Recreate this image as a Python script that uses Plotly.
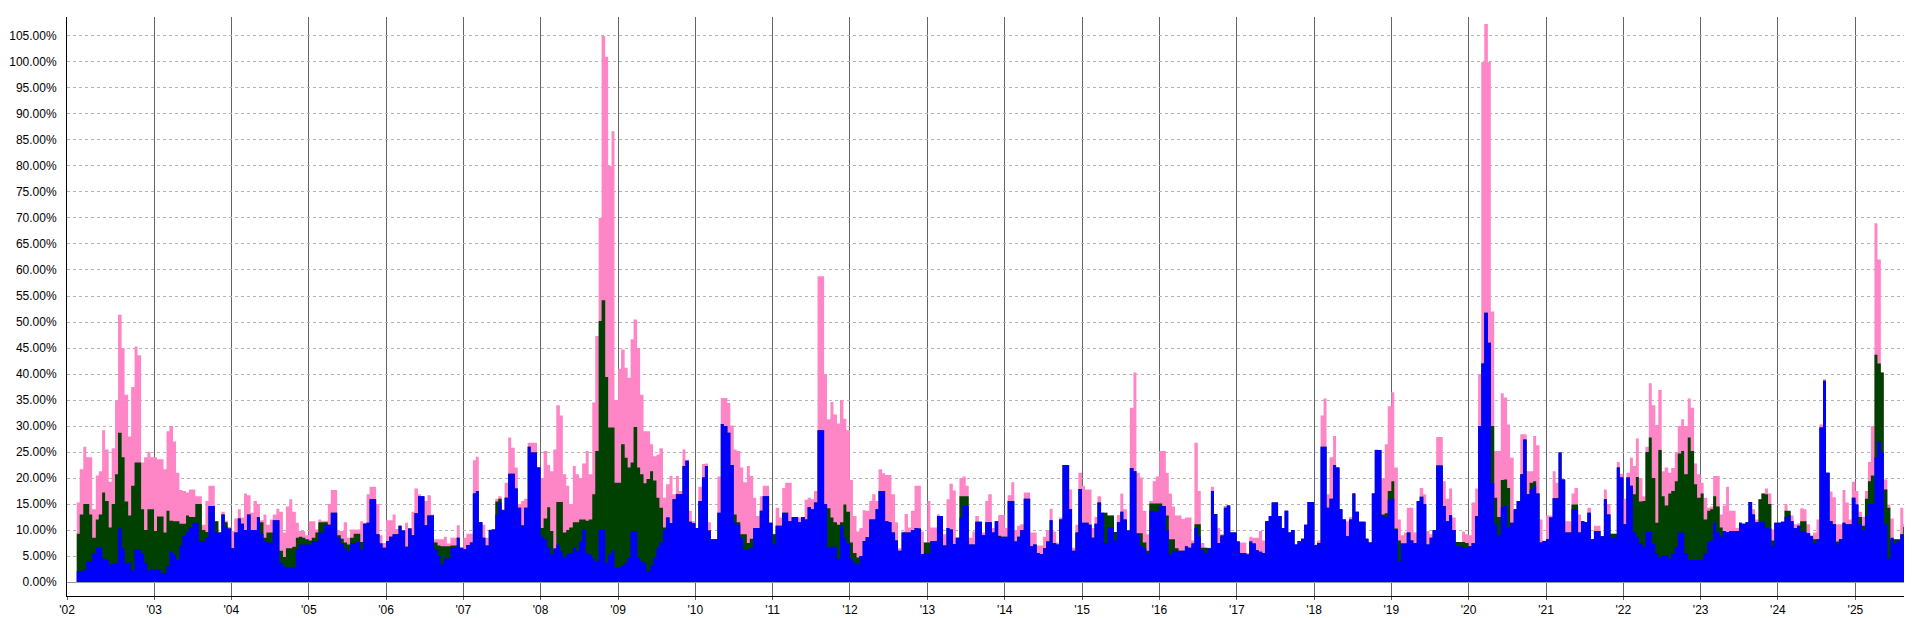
import pandas as pd
import plotly.graph_objects as go

# ---- data: semi-monthly values (%), Jan 2002 .. Oct 2025 ----
tick_labels = ["'02", "'03", "'04", "'05", "'06", "'07", "'08", "'09", "'10", "'11", "'12", "'13",
               "'14", "'15", "'16", "'17", "'18", "'19", "'20", "'21", "'22", "'23", "'24", "'25"]
tick_years = list(range(2003, 2026))

pink = [
    15.3, 21.7, 26.0, 24.0, 24.0, 14.0, 20.5, 21.3, 29.2, 25.5, 19.3, 25.7, 34.8, 51.4, 45.0, 36.0, 28.0, 37.5, 45.3, 43.6, 23.0, 24.0, 25.0, 24.0,  # 2002
    24.0, 23.6, 23.6, 21.7, 29.0, 30.0, 27.0, 21.0, 17.7, 17.5, 17.2, 17.8, 17.8, 16.5, 16.5, 11.0, 15.6, 18.5, 18.5, 11.7, 9.5, 13.5, 11.8, 10.6,  # 2003
    9.8, 12.2, 14.0, 12.4, 17.0, 16.7, 13.3, 15.6, 15.0, 11.9, 13.0, 11.0, 12.0, 13.0, 14.1, 13.5, 9.5, 14.5, 15.9, 13.5, 11.4, 9.8, 9.8, 9.0,  # 2004
    11.7, 11.7, 10.1, 12.0, 11.8, 11.8, 15.0, 17.7, 17.7, 9.8, 9.8, 11.5, 8.5, 10.1, 10.1, 10.1, 11.7, 11.4, 16.9, 18.3, 18.3, 15.0, 9.0, 7.5,  # 2005
    11.9, 11.9, 13.0, 10.2, 10.8, 9.9, 11.4, 10.4, 13.5, 18.0, 16.9, 16.5, 15.6, 16.7, 13.0, 8.2, 8.2, 8.2, 8.7, 7.4, 8.5, 8.5, 10.9, 6.6,  # 2006
    8.5, 9.3, 9.3, 23.4, 24.1, 11.5, 11.0, 8.5, 10.1, 10.1, 16.0, 16.5, 14.0, 19.1, 27.8, 25.8, 22.0, 15.0, 15.6, 16.0, 26.8, 26.8, 26.8, 22.0,  # 2007
    20.0, 25.2, 22.5, 21.3, 25.5, 34.0, 32.0, 20.7, 18.5, 15.0, 22.3, 20.7, 20.0, 22.8, 25.2, 20.7, 34.5, 47.3, 70.0, 105.0, 101.0, 80.0, 86.7, 35.0,  # 2008
    41.0, 44.7, 41.2, 39.3, 46.7, 50.5, 45.0, 36.0, 29.0, 29.0, 26.5, 24.2, 24.5, 25.7, 16.2, 18.8, 20.4, 16.9, 20.4, 17.5, 25.5, 23.5, 13.7, 11.7,  # 2009
    10.4, 18.3, 22.7, 22.8, 11.5, 8.2, 8.2, 20.3, 35.4, 35.4, 34.4, 30.1, 25.5, 25.2, 22.0, 19.2, 22.3, 20.4, 16.2, 12.7, 16.5, 18.5, 18.5, 11.4,  # 2010
    9.3, 14.3, 12.4, 18.1, 19.1, 19.1, 12.5, 12.5, 12.4, 12.5, 15.8, 16.2, 15.9, 17.5, 58.8, 58.8, 40.0, 31.3, 34.6, 32.2, 30.5, 35.0, 31.4, 29.2,  # 2011
    19.6, 12.7, 9.7, 10.4, 13.8, 13.7, 15.6, 16.9, 15.6, 21.7, 20.9, 20.6, 20.6, 16.9, 11.5, 6.5, 9.7, 13.1, 10.5, 13.7, 18.5, 18.5, 9.7, 7.6,  # 2012
    15.6, 10.5, 10.5, 13.0, 12.7, 9.2, 15.9, 18.9, 17.6, 8.5, 20.0, 20.3, 18.5, 8.5, 9.7, 12.7, 11.6, 9.5, 15.6, 16.9, 10.4, 11.7, 12.9, 12.9,  # 2013
    10.4, 16.7, 19.2, 10.0, 10.8, 11.1, 17.2, 17.2, 9.5, 9.5, 7.0, 7.0, 8.7, 10.0, 14.1, 9.7, 7.6, 12.4, 22.5, 22.5, 17.8, 6.6, 11.0, 21.0,  # 2014
    18.5, 17.8, 17.8, 10.4, 12.5, 16.5, 13.3, 13.3, 12.8, 12.8, 9.6, 12.9, 17.0, 14.0, 10.0, 33.5, 40.3, 21.0, 20.1, 13.7, 9.2, 15.6, 19.4, 20.3,  # 2015
    25.2, 25.2, 21.0, 17.0, 14.5, 12.8, 12.8, 12.1, 12.4, 12.4, 8.0, 26.8, 17.5, 7.5, 6.6, 6.6, 18.3, 13.1, 10.4, 9.2, 14.6, 14.7, 9.5, 9.5,  # 2016
    7.8, 7.6, 7.6, 5.6, 8.7, 8.5, 8.5, 9.8, 8.0, 11.7, 12.7, 15.3, 15.3, 12.7, 10.4, 13.7, 9.5, 10.0, 7.2, 7.9, 8.3, 11.0, 15.4, 15.4,  # 2017
    7.2, 8.0, 32.0, 35.3, 16.9, 24.0, 28.1, 22.0, 14.0, 12.0, 11.7, 12.5, 17.0, 13.5, 11.6, 11.6, 8.3, 7.6, 17.0, 25.5, 25.4, 20.0, 26.5, 33.8,  # 2018
    36.5, 22.0, 12.0, 9.0, 9.5, 14.3, 14.3, 9.5, 15.6, 18.1, 16.9, 9.8, 9.2, 10.0, 27.9, 27.9, 19.4, 16.0, 18.0, 12.4, 7.7, 7.7, 9.7, 9.2,  # 2019
    9.0, 15.3, 18.0, 40.0, 100.0, 107.3, 100.0, 52.0, 25.2, 25.2, 36.3, 35.5, 30.3, 23.9, 13.6, 14.9, 28.4, 28.4, 21.3, 21.3, 28.1, 26.3, 12.0, 8.0,  # 2020
    12.8, 12.8, 21.3, 19.1, 24.9, 19.7, 11.7, 11.7, 17.0, 18.1, 13.0, 11.7, 11.5, 14.3, 8.2, 10.8, 10.8, 8.8, 17.8, 15.0, 9.3, 9.3, 23.1, 20.8,  # 2021
    16.0, 21.0, 23.9, 22.3, 27.6, 20.0, 16.5, 26.0, 38.2, 34.0, 30.2, 36.9, 21.3, 22.0, 21.0, 21.9, 25.0, 30.0, 31.3, 30.0, 35.3, 33.5, 22.8, 20.7,  # 2022
    19.1, 16.2, 14.3, 14.5, 20.4, 20.4, 13.0, 14.7, 18.3, 13.7, 13.7, 10.4, 11.4, 11.2, 11.5, 15.4, 14.0, 12.0, 15.9, 17.0, 18.0, 17.0, 10.1, 11.4,  # 2023
    11.4, 11.6, 15.0, 13.5, 12.8, 11.1, 11.3, 14.2, 14.0, 11.1, 9.0, 9.5, 12.0, 30.3, 39.0, 21.0, 17.4, 16.3, 11.1, 11.1, 17.7, 15.3, 12.0, 19.3,  # 2024
    17.5, 13.5, 12.5, 17.5, 23.1, 30.0, 69.0, 62.0, 40.3, 19.7, 14.9, 12.2, 8.2, 8.2, 14.3, 11.1, 11.1, 7.5, 12.0, 17.0,  # 2025
]

green = [
    9.3, 13.0, 15.0, 15.0, 13.0, 8.5, 12.0, 13.0, 17.2, 15.6, 10.5, 15.0, 20.7, 28.7, 24.0, 15.5, 12.8, 18.5, 23.0, 23.0, 14.0, 10.0, 14.0, 14.0,  # 2002
    9.8, 12.6, 12.6, 9.5, 13.7, 11.8, 11.7, 11.7, 11.2, 11.2, 12.8, 12.5, 12.5, 15.0, 15.0, 10.0, 9.6, 14.6, 14.6, 11.7, 9.5, 13.0, 11.5, 10.3,  # 2003
    6.5, 9.5, 12.2, 11.2, 10.0, 13.0, 10.0, 10.0, 12.5, 11.5, 8.5, 9.5, 9.5, 11.9, 11.9, 6.0, 4.8, 6.5, 6.5, 6.8, 8.5, 8.7, 8.5, 8.2,  # 2004
    8.0, 8.5, 9.5, 11.5, 11.5, 11.5, 11.0, 13.3, 13.3, 9.0, 8.3, 7.6, 7.2, 8.5, 9.3, 9.3, 7.7, 11.2, 11.4, 15.9, 15.9, 9.2, 7.4, 6.6,  # 2005
    7.9, 8.7, 9.2, 9.2, 10.8, 9.9, 6.8, 10.3, 9.0, 13.2, 16.5, 16.5, 10.9, 12.8, 12.8, 7.6, 7.0, 6.9, 6.9, 6.9, 7.0, 7.0, 8.5, 6.6,  # 2006
    6.3, 7.1, 7.6, 17.0, 17.5, 11.5, 8.5, 7.0, 10.0, 10.1, 15.5, 16.0, 13.8, 16.2, 20.8, 20.8, 18.0, 14.3, 10.9, 14.3, 26.0, 24.9, 24.9, 22.0,  # 2007
    10.4, 12.2, 14.4, 9.8, 6.2, 15.4, 15.4, 9.5, 10.0, 10.5, 11.5, 11.5, 12.0, 12.0, 11.8, 12.0, 16.9, 25.2, 50.2, 54.2, 39.4, 29.7, 29.7, 19.1,  # 2008
    19.1, 26.5, 23.9, 22.0, 23.0, 29.8, 22.0, 20.7, 19.0, 19.8, 21.3, 19.5, 16.2, 14.3, 10.5, 12.4, 11.3, 15.9, 16.9, 16.9, 22.3, 23.3, 11.6, 11.3,  # 2009
    10.4, 15.6, 20.1, 22.3, 9.9, 8.2, 8.2, 13.3, 30.4, 30.0, 28.7, 22.5, 13.0, 11.5, 9.2, 9.2, 7.5, 8.3, 10.4, 10.4, 13.7, 16.5, 16.5, 11.4,  # 2010
    9.2, 10.8, 10.8, 13.3, 13.3, 11.7, 12.5, 12.5, 11.5, 12.5, 12.0, 14.4, 14.0, 15.3, 29.2, 29.2, 15.0, 14.2, 12.4, 11.5, 11.0, 11.5, 14.9, 13.5,  # 2011
    7.6, 5.6, 4.7, 5.0, 7.9, 8.6, 12.0, 12.0, 14.0, 17.5, 17.5, 11.7, 11.5, 9.5, 8.0, 6.0, 9.5, 9.5, 9.5, 10.0, 10.4, 10.3, 5.4, 7.6,  # 2012
    7.6, 7.9, 7.9, 12.7, 12.7, 7.0, 10.4, 10.1, 7.3, 8.5, 16.5, 16.5, 16.5, 7.2, 7.2, 11.6, 11.6, 9.0, 11.5, 11.5, 9.5, 11.7, 8.9, 8.7,  # 2013
    8.7, 15.6, 15.6, 7.8, 8.7, 10.0, 16.0, 16.0, 6.9, 7.2, 5.6, 5.4, 6.5, 7.8, 11.9, 7.5, 7.2, 12.0, 22.5, 22.5, 14.0, 6.0, 9.5, 17.9,  # 2014
    11.4, 11.4, 11.0, 8.5, 11.2, 15.3, 13.3, 13.3, 12.8, 12.8, 9.6, 11.5, 13.5, 12.0, 9.9, 21.9, 21.3, 9.4, 9.4, 7.6, 6.0, 15.1, 15.1, 15.1,  # 2015
    15.1, 14.6, 12.8, 8.2, 8.2, 6.5, 6.0, 6.0, 6.9, 6.6, 7.4, 11.1, 11.1, 6.6, 6.6, 6.5, 17.5, 13.1, 7.5, 9.0, 14.3, 14.7, 9.5, 9.5,  # 2016
    7.8, 5.6, 5.6, 5.3, 7.8, 7.4, 6.1, 5.8, 5.6, 11.7, 12.7, 15.3, 15.3, 12.7, 10.4, 13.7, 9.5, 10.0, 7.2, 7.9, 8.3, 11.0, 15.4, 15.4,  # 2017
    7.1, 7.5, 26.0, 26.0, 14.3, 16.0, 22.5, 22.0, 14.0, 12.0, 8.8, 12.0, 17.0, 13.5, 11.6, 11.6, 8.3, 7.6, 17.0, 25.4, 25.4, 13.0, 13.2, 17.5,  # 2018
    19.4, 10.3, 8.0, 7.4, 7.4, 9.5, 8.0, 7.5, 15.6, 16.4, 15.0, 7.2, 8.5, 10.0, 22.4, 22.4, 14.6, 11.7, 12.9, 10.0, 7.7, 7.7, 7.7, 7.5,  # 2019
    6.9, 7.5, 12.7, 30.0, 42.0, 51.8, 46.0, 30.0, 16.2, 12.5, 19.6, 19.7, 18.1, 11.4, 14.0, 15.6, 20.7, 27.4, 16.9, 19.1, 19.4, 17.0, 7.6, 7.9,  # 2020
    8.2, 12.4, 16.1, 16.1, 24.9, 19.7, 9.5, 9.5, 14.9, 14.9, 9.5, 11.7, 11.5, 13.3, 8.2, 9.8, 9.8, 8.8, 15.9, 13.0, 9.3, 9.3, 22.0, 20.1,  # 2021
    11.1, 20.1, 18.5, 16.9, 20.2, 15.5, 15.6, 25.0, 27.8, 20.0, 11.4, 25.4, 16.5, 14.7, 17.0, 17.5, 19.4, 24.7, 25.2, 20.7, 27.8, 25.2, 18.8, 16.2,  # 2022
    17.0, 12.0, 13.7, 14.0, 16.5, 14.5, 10.5, 9.8, 9.6, 9.8, 9.8, 9.8, 11.4, 11.2, 11.5, 15.4, 13.0, 11.5, 15.9, 17.0, 16.9, 15.0, 8.0, 11.4,  # 2023
    11.4, 11.6, 13.7, 13.7, 11.7, 10.4, 10.8, 11.7, 11.7, 9.4, 8.8, 8.2, 8.2, 29.7, 38.7, 21.0, 11.7, 11.1, 7.8, 8.2, 11.4, 11.1, 11.1, 16.2,  # 2024
    14.9, 12.5, 10.8, 16.0, 19.4, 20.5, 43.7, 42.0, 40.3, 17.8, 14.3, 8.2, 8.2, 8.2, 9.2, 10.6, 7.0, 4.4, 10.1, 11.4,  # 2025
]

blue = [
    2.1, 2.1, 2.4, 4.0, 4.0, 5.5, 6.6, 6.6, 4.5, 4.3, 3.4, 3.5, 3.7, 10.3, 6.5, 3.7, 3.7, 2.2, 6.3, 6.3, 5.5, 3.7, 2.2, 2.5,  # 2002
    2.4, 2.4, 1.8, 1.8, 3.0, 5.8, 5.3, 4.3, 7.0, 9.0, 9.6, 10.6, 11.4, 11.4, 7.9, 7.9, 8.5, 14.6, 14.6, 9.5, 9.5, 13.0, 10.6, 10.3,  # 2003
    6.5, 9.5, 12.2, 11.2, 10.0, 13.0, 10.0, 10.0, 12.4, 9.3, 8.0, 7.6, 7.6, 11.9, 11.9, 3.7, 3.0, 2.8, 2.8, 2.8, 6.3, 7.2, 7.2, 7.2,  # 2004
    7.2, 7.9, 7.9, 9.5, 9.5, 11.0, 11.0, 13.3, 13.3, 8.5, 7.5, 6.5, 5.9, 7.5, 7.5, 7.7, 6.3, 11.2, 11.4, 15.9, 15.9, 9.2, 7.4, 6.6,  # 2005
    7.9, 8.7, 9.2, 9.2, 10.8, 9.9, 6.8, 10.3, 9.0, 13.2, 16.5, 16.5, 10.9, 12.8, 12.8, 6.3, 5.0, 3.4, 4.5, 4.5, 6.7, 6.7, 8.5, 6.6,  # 2006
    6.3, 7.1, 7.6, 17.0, 17.5, 11.5, 8.5, 7.0, 10.0, 10.1, 13.0, 15.3, 13.8, 16.2, 20.8, 20.8, 18.0, 14.3, 10.8, 14.3, 26.0, 24.9, 24.9, 22.0,  # 2007
    8.7, 8.2, 6.6, 5.3, 6.5, 7.2, 6.0, 4.7, 5.4, 5.6, 6.6, 6.0, 7.8, 10.1, 5.6, 5.3, 4.5, 4.0, 10.1, 10.1, 3.7, 5.3, 6.0, 2.8,  # 2008
    2.8, 3.2, 3.8, 4.7, 9.8, 9.8, 4.7, 4.0, 3.7, 2.1, 3.2, 4.7, 6.6, 7.6, 10.1, 12.4, 11.3, 15.9, 16.9, 16.9, 22.3, 23.3, 11.6, 11.3,  # 2009
    10.4, 15.6, 20.1, 22.3, 9.9, 8.2, 8.2, 13.3, 30.4, 30.0, 28.7, 22.5, 11.4, 11.0, 8.5, 6.2, 6.2, 6.6, 10.4, 10.4, 13.7, 16.5, 16.5, 11.4,  # 2010
    7.2, 10.8, 10.8, 13.3, 13.3, 11.7, 12.5, 12.5, 11.5, 12.5, 12.0, 14.4, 14.0, 15.3, 29.2, 29.2, 15.0, 6.6, 6.8, 6.8, 4.4, 10.8, 8.5, 7.4,  # 2011
    4.5, 3.7, 3.4, 5.0, 7.9, 8.6, 12.0, 12.0, 14.0, 17.5, 17.5, 11.7, 11.5, 9.5, 8.0, 6.0, 9.5, 9.5, 9.5, 10.0, 10.4, 10.3, 5.4, 5.6,  # 2012
    5.6, 7.9, 7.9, 12.7, 12.7, 7.0, 10.4, 10.1, 7.3, 8.5, 12.4, 14.6, 14.6, 7.2, 7.2, 11.6, 11.6, 9.0, 11.5, 11.5, 9.5, 11.7, 8.7, 8.7,  # 2013
    8.7, 15.6, 15.6, 7.8, 8.7, 10.0, 16.0, 16.0, 6.9, 7.2, 5.6, 5.4, 6.5, 7.8, 11.9, 7.5, 7.2, 12.0, 22.5, 22.5, 14.0, 6.0, 9.5, 17.9,  # 2014
    11.4, 11.4, 11.0, 8.5, 11.2, 15.3, 13.3, 7.5, 10.6, 10.5, 8.0, 11.5, 13.5, 12.0, 9.9, 21.9, 21.3, 9.3, 7.0, 6.5, 5.5, 13.7, 13.5, 13.7,  # 2015
    14.6, 14.6, 10.0, 5.3, 6.0, 6.0, 6.0, 6.0, 6.9, 6.6, 7.4, 10.4, 8.8, 6.2, 5.6, 6.5, 17.5, 13.1, 7.5, 8.8, 14.3, 14.7, 9.5, 9.5,  # 2016
    7.8, 5.6, 5.6, 5.3, 7.8, 7.4, 6.1, 5.8, 5.6, 11.7, 12.7, 15.3, 15.3, 12.7, 10.4, 13.7, 9.5, 10.0, 7.2, 7.9, 8.3, 11.0, 15.4, 15.4,  # 2017
    7.1, 7.5, 26.0, 26.0, 14.3, 16.0, 22.5, 22.0, 14.0, 12.0, 8.8, 12.0, 17.0, 13.5, 11.6, 11.6, 8.3, 7.6, 17.0, 25.4, 25.4, 12.7, 12.5, 15.8,  # 2018
    16.0, 10.0, 4.0, 7.4, 7.4, 9.5, 8.0, 7.5, 15.6, 16.4, 15.0, 7.2, 8.5, 10.0, 22.4, 22.4, 14.6, 11.7, 12.9, 10.0, 6.9, 6.9, 6.7, 6.7,  # 2019
    6.9, 7.5, 12.7, 30.0, 42.0, 51.8, 46.0, 19.0, 11.1, 9.0, 14.4, 14.6, 10.6, 11.4, 14.0, 15.6, 20.7, 27.4, 16.9, 17.8, 18.5, 17.0, 7.6, 7.9,  # 2020
    8.2, 12.4, 16.1, 16.1, 24.9, 19.7, 9.5, 9.5, 14.0, 14.0, 9.5, 11.7, 11.5, 13.3, 8.2, 9.8, 9.8, 8.8, 15.9, 13.0, 8.5, 8.5, 22.0, 20.1,  # 2021
    11.1, 20.1, 18.5, 9.5, 8.7, 7.5, 6.9, 9.7, 9.6, 7.3, 5.5, 4.8, 5.2, 5.2, 4.5, 5.5, 6.7, 9.5, 9.5, 5.6, 4.2, 4.3, 4.3, 4.3,  # 2022
    4.2, 5.6, 7.8, 8.0, 11.4, 9.5, 8.7, 9.8, 9.6, 9.8, 9.6, 9.8, 11.4, 11.2, 11.5, 15.4, 13.0, 11.5, 11.5, 11.5, 10.4, 10.3, 7.0, 11.4,  # 2023
    11.4, 11.6, 12.5, 12.9, 11.7, 10.4, 10.8, 9.8, 9.6, 9.4, 8.8, 7.5, 8.2, 29.7, 38.7, 21.0, 11.7, 11.1, 7.2, 8.2, 11.4, 11.1, 11.1, 16.2,  # 2024
    14.9, 11.1, 10.0, 12.7, 15.0, 15.0, 24.0, 27.0, 24.9, 11.1, 4.5, 8.5, 7.5, 8.0, 9.2, 8.5, 6.5, 4.4, 10.1, 11.4,  # 2025
]

# ---- styling ----
PINK = "rgb(255,134,198)"
GREEN = "rgb(0,64,0)"
BLUE = "rgb(0,0,255)"
FONT = "Liberation Sans, Arial, sans-serif"

n = len(pink)
dates = pd.date_range("2002-01-01", periods=n + 1, freq="SMS")  # last entry closes final step

fig = go.Figure()
for vals, color in [(pink, PINK), (green, GREEN), (blue, BLUE)]:
    fig.add_trace(go.Scatter(
        x=dates, y=vals + [vals[-1]],
        mode="lines", line=dict(width=0, shape="hv", color=color),
        fill="tozeroy", fillcolor=color,
        hoverinfo="skip", showlegend=False,
    ))

x_start = pd.Timestamp("2001-11-16")
x_end = pd.Timestamp("2025-11-02")
tickvals = [x_start] + [pd.Timestamp(f"{y}-01-01") for y in tick_years]

fig.update_layout(
    width=1912, height=618,
    margin=dict(l=59, r=0, t=9, b=30),
    paper_bgcolor="white", plot_bgcolor="white",
    font=dict(family=FONT, size=12, color="#000"),
)
fig.update_xaxes(
    type="date", range=[x_start, x_end],
    tickmode="array", tickvals=tickvals, ticktext=tick_labels,
    showgrid=True, gridcolor="#646464", gridwidth=1,
    ticks="outside", ticklen=3, tickcolor="#646464", tickwidth=1,
    showline=True, linecolor="#000", linewidth=1,
    tickfont=dict(family=FONT, size=12, color="#000"),
)
fig.update_yaxes(
    range=[-2.69, 108.65],
    tickmode="linear", tick0=0, dtick=5,
    tickformat=".2f", ticksuffix="%",
    showgrid=True, gridcolor="#b4b4b4", gridwidth=1, griddash="dot",
    zeroline=True, zerolinecolor="#9a9a9a", zerolinewidth=1,
    ticks="outside", ticklen=7, tickcolor="rgba(0,0,0,0)",
    showline=True, linecolor="#000", linewidth=1,
    tickfont=dict(family=FONT, size=12, color="#000"),
)

fig.write_html("out.html")
